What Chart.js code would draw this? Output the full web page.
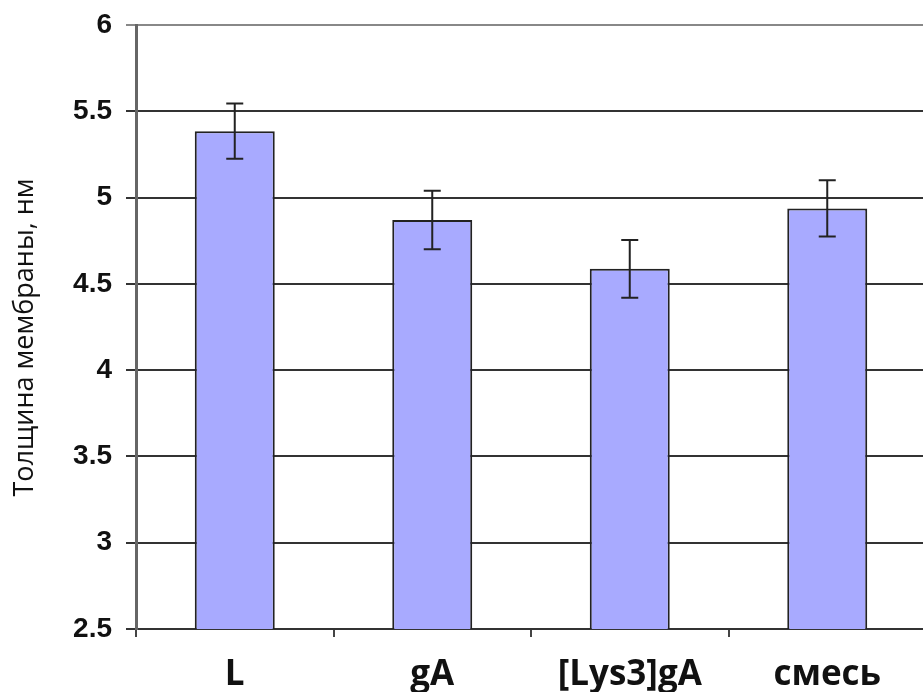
<!DOCTYPE html>
<html>
<head>
<meta charset="utf-8">
<script src="https://cdn.jsdelivr.net/npm/chart.js@4.4.0/dist/chart.umd.min.js"></script>
<style>
html,body{margin:0;padding:0;background:#fff;overflow:hidden;}
#wrap{width:926px;height:692px;}
</style>
</head>
<body>
<div id="wrap"><canvas id="c" width="926" height="692"></canvas></div>
<script>
const categories = ['L', 'gA', '[Lys3]gA', 'смесь'];
const values = [5.385, 4.87, 4.587, 4.937];
const errors = [0.16, 0.17, 0.167, 0.163];
const yTickLabels = ['2.5', '3', '3.5', '4', '4.5', '5', '5.5', '6'];
const yTitle = 'Толщина мембраны, нм';

const errorBars = {
  id: 'errorBars',
  afterDatasetsDraw(chart) {
    const ctx = chart.ctx;
    const meta = chart.getDatasetMeta(0);
    const ys = chart.scales.y;
    ctx.save();
    ctx.strokeStyle = '#222';
    ctx.lineWidth = 2;
    meta.data.forEach((bar, i) => {
      const x = bar.x;
      const yTop = ys.getPixelForValue(values[i] + errors[i]);
      const yBot = ys.getPixelForValue(values[i] - errors[i]);
      const cap = 8.5;
      ctx.beginPath();
      ctx.moveTo(x, yTop); ctx.lineTo(x, yBot);
      ctx.moveTo(x - cap, yTop); ctx.lineTo(x + cap, yTop);
      ctx.moveTo(x - cap, yBot); ctx.lineTo(x + cap, yBot);
      ctx.stroke();
    });
    ctx.restore();
  }
};

new Chart(document.getElementById('c'), {
  type: 'bar',
  data: {
    labels: categories,
    datasets: [{
      data: values,
      backgroundColor: 'rgb(168,170,255)',
      borderColor: '#222',
      borderWidth: 2,
      barPercentage: 0.405,
      categoryPercentage: 1.0
    }]
  },
  options: {
    responsive: false,
    animation: false,
    devicePixelRatio: 1,
    layout: { padding: { top: 25, left: 0, right: 0, bottom: 0 } },
    plugins: { legend: { display: false }, tooltip: { enabled: false } },
    scales: {
      x: {
        afterFit(s) { s.height = 63; s.paddingLeft = 0; s.paddingRight = 0; },
        grid: { display: true, drawOnChartArea: false, drawTicks: true, tickLength: 8, color: '#444', lineWidth: 2 },
        border: { display: true, color: '#333', width: 2 },
        ticks: {
          color: '#111',
          padding: 17,
          font: { family: '"Open Sans", sans-serif', weight: 'bold', size: 35 }
        }
      },
      y: {
        min: 2.5,
        max: 6,
        afterFit(s) { s.width = 136; s.paddingTop = 0; s.paddingBottom = 0; },
        grid: {
          color: (c) => (c.tick && c.tick.value === 6 ? '#888' : '#333'),
          lineWidth: 2,
          drawTicks: true,
          tickLength: 10
        },
        border: { display: true, color: '#666', width: 3 },
        ticks: {
          stepSize: 0.5,
          color: '#111',
          padding: 14,
          font: { family: '"Liberation Sans", Arial, sans-serif', weight: 'bold', size: 28 },
          callback: (v, i) => yTickLabels[i]
        },
        title: {
          display: true,
          text: yTitle + '\u00a0\u00a0\u00a0',
          color: '#111',
          padding: { top: 9, bottom: 0 },
          font: { family: '"Open Sans", sans-serif', size: 27 }
        }
      }
    }
  },
  plugins: [errorBars]
});
</script>
</body>
</html>
